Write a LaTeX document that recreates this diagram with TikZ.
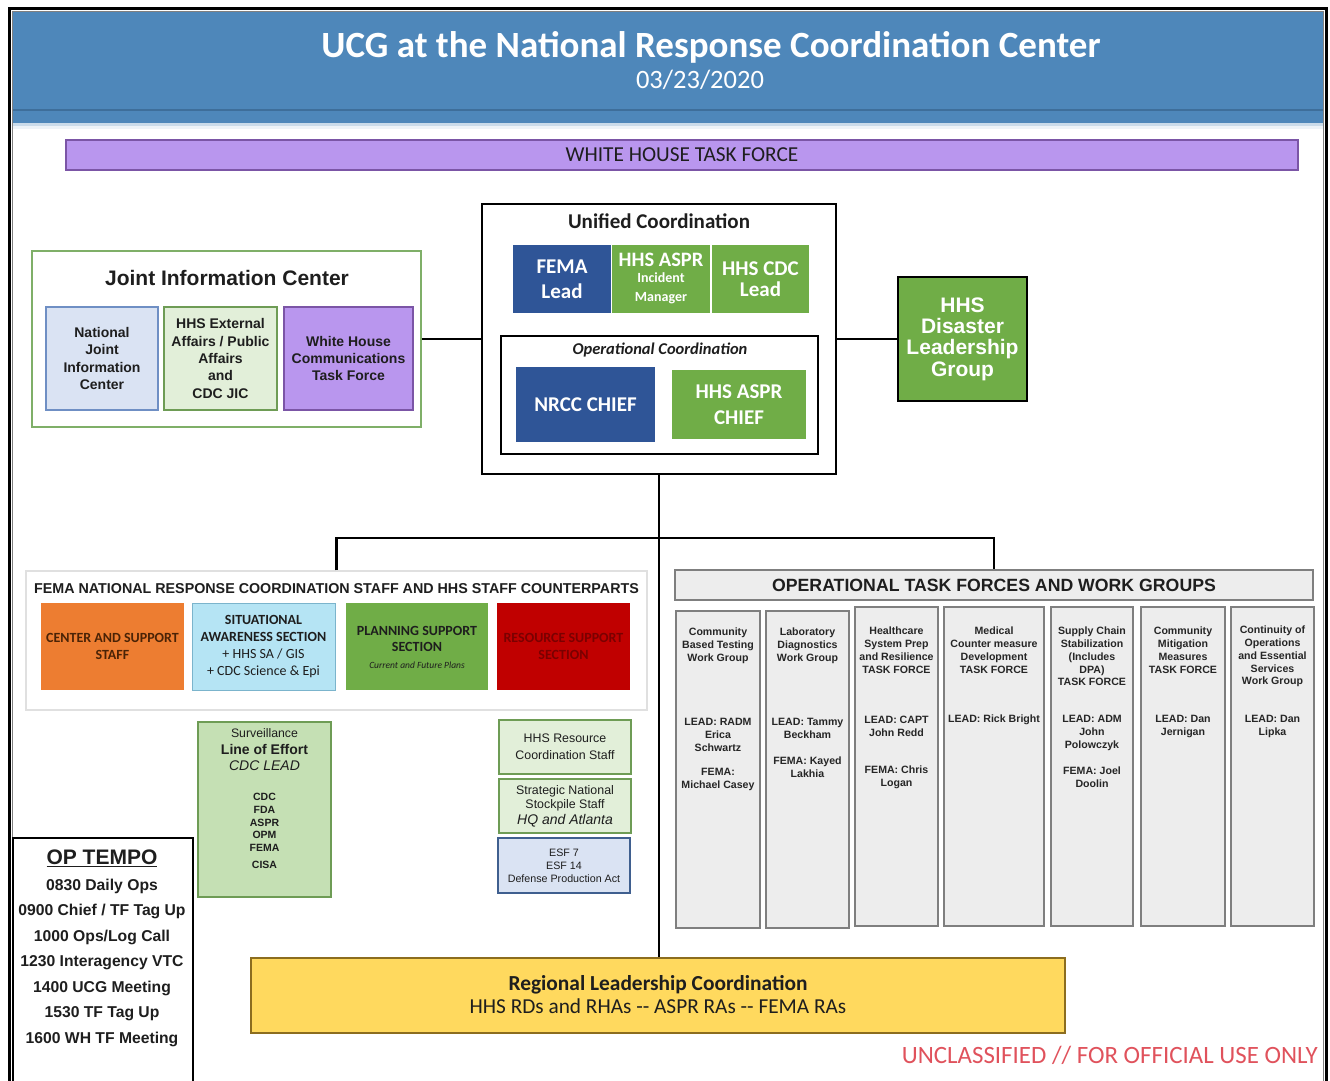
\documentclass[tikz,border=0pt]{standalone}
\usepackage{fontspec}
\setmainfont{Carlito}
\newfontfamily\arial{Liberation Sans}
\usetikzlibrary{positioning}

\definecolor{hdrblue}{HTML}{4E87BA}
\definecolor{hdrline}{HTML}{3E6E9A}
\definecolor{lav}{HTML}{B996EE}
\definecolor{lavborder}{HTML}{7B55A6}
\definecolor{dblue}{HTML}{2F5597}
\definecolor{mgreen}{HTML}{70AD47}
\definecolor{ltblue}{HTML}{DAE3F3}
\definecolor{ltblueb}{HTML}{6F8FC4}
\definecolor{esfb}{HTML}{3F5F8F}
\definecolor{ltgreen}{HTML}{E2EFD9}
\definecolor{ltgreenb}{HTML}{6E9C55}
\definecolor{surv}{HTML}{C5E0B4}
\definecolor{orng}{HTML}{ED7D31}
\definecolor{cyanl}{HTML}{B5E4F4}
\definecolor{cyanb}{HTML}{7BB4CC}
\definecolor{redd}{HTML}{C00000}
\definecolor{redtext}{HTML}{7A0000}
\definecolor{orngtext}{HTML}{4A2306}
\definecolor{tfgray}{HTML}{EDEDED}
\definecolor{tfborder}{HTML}{7F7F7F}
\definecolor{yel}{HTML}{FFD95E}
\definecolor{yelb}{HTML}{8C6D1F}
\definecolor{unclass}{HTML}{E0525C}
\definecolor{jicb}{HTML}{7FAF68}
\definecolor{darktext}{HTML}{1E1E1E}
\definecolor{paneltxt}{HTML}{262626}

\newcommand{\rbox}[7][]{\node[rectangle, inner sep=0pt, minimum width={(#5)-(#3)}, minimum height={(#6)-(#4)}, align=center, #1] (#2) at ({((#3)+(#5))/2},{((#4)+(#6))/2}) {#7};}

\tikzset{
  conn/.style={draw=black, line width=2.8},
  blackbox/.style={draw=black, line width=1.8, fill=white},
  bluebox/.style={fill=dblue, text=white, font=\fontsize{21}{25}\selectfont\bfseries},
  greenbox/.style={fill=mgreen, text=white, font=\fontsize{21}{21}\selectfont\bfseries},
  jicsub/.style={line width=1.3, text=darktext, font=\arial\bfseries\fontsize{14}{17.4}\selectfont},
  staffbox/.style={font=\fontsize{14}{17}\selectfont\bfseries},
  lgbox/.style={fill=ltgreen, draw=ltgreenb, line width=1.5, text=darktext},
  tfcol/.style={fill=tfgray, draw=tfborder, line width=1.4},
  tftext/.style={font=\arial\bfseries\fontsize{10.6}{12.8}\selectfont, align=center, text=paneltxt, inner sep=0pt},
  plain/.style={inner sep=0pt, align=center},
}

\begin{document}
\begin{tikzpicture}[x=1pt,y=-1pt]
\useasboundingbox (0,0) rectangle (1330,1080);
\fill[white] (0,0) rectangle (1330,1080);

% header
\fill[hdrblue] (12,12) rectangle (1323,123);
\draw[hdrline, line width=2] (12,110) -- (1323,110);
\fill[hdrblue!30] (12,123) rectangle (1323,126);
\fill[hdrblue!10] (12,126) rectangle (1323,129);
\draw[black, line width=3] (9,1095) -- (9,8.5) -- (1326.5,8.5) -- (1326.5,1095);
\draw[gray, line width=0.8] (12.2,1095) -- (12.2,11.6) -- (1323.3,11.6) -- (1323.3,1095);

\node[plain, text=white, font=\fontsize{37}{42}\selectfont\bfseries] (title) at (711,47) {UCG at the National Response Coordination Center};
\node[plain, text=white, font=\fontsize{26.5}{30}\selectfont] (date) at (700,80) {03/23/2020};

% white house task force
\rbox[fill=lav, draw=lavborder, line width=1.3, font=\fontsize{21.3}{24}\selectfont, text=darktext]{whtf}{66}{140}{1298}{170}{WHITE HOUSE TASK FORCE}

% Joint information center
\rbox[draw=jicb, line width=1.6, fill=white]{jic}{32}{251}{421}{427}{}
\node[plain, font=\arial\bfseries\fontsize{21}{25}\selectfont, text=darktext] (jictitle) at (227,278) {Joint Information Center};
\rbox[jicsub, fill=ltblue, draw=ltblueb]{njic}{46}{307}{158}{410}{National\\Joint\\Information\\Center}
\rbox[jicsub, fill=ltgreen, draw=ltgreenb]{hhsea}{164}{307}{277}{410}{HHS External\\Affairs / Public\\Affairs\\and\\CDC JIC}
\rbox[jicsub, fill=lav, draw=lavborder]{whc}{284}{307}{413}{410}{White House\\Communications\\Task Force}

% Unified coordination
\rbox[blackbox]{uc}{482}{204}{836}{474}{}
\node[plain, font=\fontsize{21}{25}\selectfont\bfseries, text=darktext] (uctitle) at (659,221) {Unified Coordination};
\rbox[bluebox]{femalead}{513}{245}{611}{313}{FEMA\\Lead}
\rbox[fill=mgreen]{aspr}{612}{245}{710}{313}{}
\node[plain, text=white, font=\fontsize{20.5}{24}\selectfont\bfseries] (asprt) at (661,260) {HHS ASPR};
\node[plain, text=white, font=\fontsize{14}{19}\selectfont\bfseries] (asprs) at (661,288.5) {Incident\\Manager};
\rbox[greenbox]{cdc}{712}{245}{809}{313}{HHS CDC\\Lead}

\rbox[blackbox, line width=1.5]{oc}{501}{336}{818}{454}{}
\node[plain, font=\fontsize{16.5}{20}\selectfont\bfseries\itshape, text=darktext] (octitle) at (660,350) {Operational Coordination};
\rbox[bluebox]{nrcc}{516}{367}{655}{442}{NRCC CHIEF}
\rbox[greenbox, font=\fontsize{21}{26}\selectfont\bfseries]{asprchief}{672}{370}{806}{439}{HHS ASPR\\CHIEF}

% HHS DLG
\rbox[fill=mgreen, draw=black, line width=2, text=white, font=\arial\bfseries\fontsize{21}{21.4}\selectfont]{dlg}{898}{277}{1027}{401}{HHS\\Disaster\\Leadership\\Group}

% connectors top
\draw[conn] (jic.east) -- (uc.west);
\draw[conn] (uc.east) -- (dlg.west);

% FEMA staff panel
\rbox[fill=white, draw=black!12, line width=1.5]{staff}{26}{571}{647}{710}{}
\node[plain, font=\arial\bfseries\fontsize{14.3}{16}\selectfont, text=darktext] (stafft) at (336.5,589) {FEMA NATIONAL RESPONSE COORDINATION STAFF AND HHS STAFF COUNTERPARTS};
\rbox[staffbox, fill=orng, text=orngtext]{center}{41}{603}{184}{690}{CENTER AND SUPPORT\\STAFF}
\rbox[staffbox, fill=cyanl, draw=cyanb, line width=1, text=darktext, font=\fontsize{14}{17}\selectfont]{sa}{192}{603}{335}{690}{\textbf{SITUATIONAL}\\\textbf{AWARENESS SECTION}\\+ HHS SA / GIS\\+ CDC Science \& Epi}
\rbox[fill=mgreen]{plan}{346}{603}{488}{690}{}
\node[plain, font=\fontsize{14}{16.5}\selectfont\bfseries, text=darktext] (plant) at (417,639) {PLANNING SUPPORT\\SECTION};
\node[plain, font=\fontsize{9.5}{11}\selectfont\itshape, text=darktext] (plans) at (417,665) {Current and Future Plans};
\rbox[staffbox, fill=redd, text=redtext]{res}{497}{603}{630}{690}{RESOURCE SUPPORT\\SECTION}

% surveillance
\rbox[fill=surv, draw=ltgreenb, line width=1.5]{surv}{198}{722}{331}{897}{}
\node[plain, font=\arial\fontsize{12.3}{14}\selectfont, text=darktext] (survt) at (264.5,733) {Surveillance};
\node[plain, font=\arial\bfseries\fontsize{14}{16}\selectfont, text=darktext] (loe) at (264.5,749) {Line of Effort};
\node[plain, font=\arial\itshape\fontsize{14}{16}\selectfont, text=darktext] (cdclead) at (264.5,766) {CDC LEAD};
\node[plain, font=\arial\bfseries\fontsize{10.5}{12.8}\selectfont, text=darktext] (agencies) at (264.5,822.5) {CDC\\FDA\\ASPR\\OPM\\FEMA};
\node[plain, font=\arial\bfseries\fontsize{10.5}{12.8}\selectfont, text=darktext] (cisa) at (264.5,865) {CISA};

% resource sub boxes
\rbox[lgbox, font=\arial\fontsize{12.4}{17}\selectfont]{hhsrcs}{499}{720}{631}{774}{HHS Resource\\Coordination Staff}
\rbox[lgbox]{sns}{499}{779}{631}{833}{}
\node[plain, font=\arial\fontsize{12.4}{14}\selectfont, text=darktext] (snst) at (565,798) {Strategic National\\Stockpile Staff};
\node[plain, font=\arial\itshape\fontsize{14}{16}\selectfont, text=darktext] (snsh) at (565,821) {HQ and Atlanta};
\rbox[fill=ltblue, draw=esfb, line width=1.8, text=darktext, font=\arial\fontsize{10.7}{13}\selectfont]{esf}{498}{838}{630}{893}{ESF 7\\ESF 14\\Defense Production Act}

% task forces
\rbox[fill=tfgray, draw=tfborder, line width=1.5, text=darktext, font=\arial\bfseries\fontsize{17.7}{20}\selectfont]{tfh}{675}{570}{1313}{600}{OPERATIONAL TASK FORCES AND WORK GROUPS}
\rbox[tfcol]{tf1}{676}{611}{760}{928}{}
\rbox[tfcol]{tf2}{766}{611}{849}{928}{}
\rbox[tfcol]{tf3}{855}{607}{938}{926}{}
\rbox[tfcol]{tf4}{944}{607}{1044}{926}{}
\rbox[tfcol]{tf5}{1051}{607}{1133}{926}{}
\rbox[tfcol]{tf6}{1141}{607}{1225}{926}{}
\rbox[tfcol]{tf7}{1231}{607}{1314}{926}{}

\node[tftext] (t1a) at (718,646) {Community\\Based Testing\\Work Group};
\node[tftext] (t1b) at (718,735) {LEAD: RADM\\Erica\\Schwartz};
\node[tftext] (t1c) at (718,779.5) {FEMA:\\Michael Casey};
\node[tftext] (t2a) at (807.5,646) {Laboratory\\Diagnostics\\Work Group};
\node[tftext] (t2b) at (807.5,728.5) {LEAD: Tammy\\Beckham};
\node[tftext] (t2c) at (807.5,767.5) {FEMA: Kayed\\Lakhia};
\node[tftext] (t3a) at (896.5,650) {Healthcare\\System Prep\\and Resilience\\TASK FORCE};
\node[tftext] (t3b) at (896.5,726.5) {LEAD: CAPT\\John Redd};
\node[tftext] (t3c) at (896.5,777.5) {FEMA: Chris\\Logan};
\node[tftext] (t4a) at (994,650) {Medical\\Counter measure\\Development\\TASK FORCE};
\node[tftext] (t4b) at (994,720) {LEAD: Rick Bright};
\node[tftext] (t5a) at (1092,656.5) {Supply Chain\\Stabilization\\(Includes\\DPA)\\TASK FORCE};
\node[tftext] (t5b) at (1092,733) {LEAD: ADM\\John\\Polowczyk};
\node[tftext] (t5c) at (1092,777.5) {FEMA: Joel\\Doolin};
\node[tftext] (t6a) at (1183,650) {Community\\Mitigation\\Measures\\TASK FORCE};
\node[tftext] (t6b) at (1183,726.5) {LEAD: Dan\\Jernigan};
\node[tftext] (t7a) at (1272.5,656.5) {Continuity of\\Operations\\and Essential\\Services\\Work Group};
\node[tftext] (t7b) at (1272.5,726.5) {LEAD: Dan\\Lipka};

% regional
\rbox[fill=yel, draw=yelb, line width=1.5]{reg}{251}{958}{1065}{1033}{}
\node[plain, font=\fontsize{21.4}{24}\selectfont\bfseries, text=darktext] (regt) at (658,985) {Regional Leadership Coordination};
\node[plain, font=\fontsize{21.3}{24}\selectfont, text=darktext] (regs) at (658,1006) {HHS RDs and RHAs -{}- ASPR RAs -{}- FEMA RAs};

% tree connectors
\coordinate (br) at (659,538);
\draw[conn] (uc.south) -- (uc.south |- reg.north);
\draw[conn] (staff.north) |- (br) -| (tfh.north);

% op tempo
\rbox[draw=black, line width=2, fill=white]{optempo}{13}{838}{193}{1100}{}
\node[plain, font=\arial\bfseries\fontsize{21}{24}\selectfont, text=darktext] (opt) at (102,858) {\underline{OP TEMPO}};
\node[plain, font=\arial\bfseries\fontsize{15.7}{25.5}\selectfont, text=darktext] (ops) at (102,962.5) {0830 Daily Ops\\0900 Chief / TF Tag Up\\1000 Ops/Log Call\\1230 Interagency VTC\\1400 UCG Meeting\\1530 TF Tag Up\\1600 WH TF Meeting};

% classification
\node[plain, anchor=east, font=\fontsize{24.9}{28}\selectfont, text=unclass] (uncl) at (1318,1055) {UNCLASSIFIED // FOR OFFICIAL USE ONLY};
\end{tikzpicture}
\end{document}
